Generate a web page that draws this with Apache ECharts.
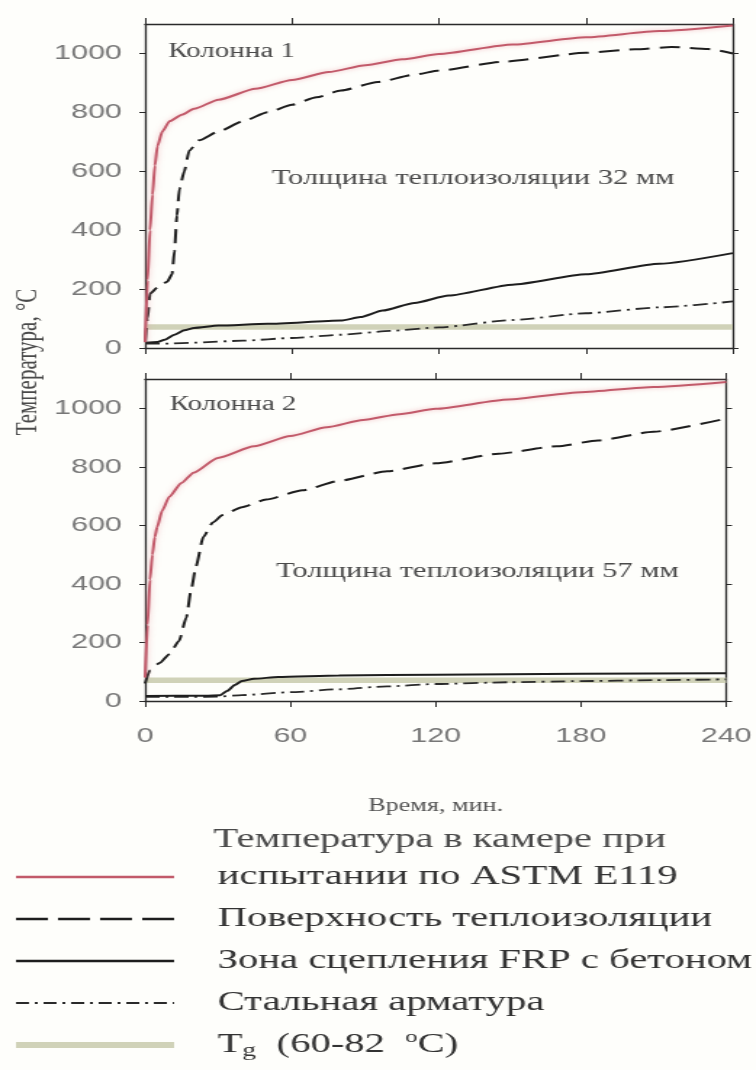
<!DOCTYPE html>
<html>
<head>
<meta charset="utf-8">
<script src="https://cdn.jsdelivr.net/npm/echarts@6/dist/echarts.min.js"></script>
<style>
  html, body { margin: 0; padding: 0; background: #fefefb; }
  /* the source picture is stretched sideways, so the chart is drawn narrow and widened */
  #chart { width: 521px; height: 1070px; transform: scaleX(1.451); transform-origin: 0 0; }
</style>
</head>
<body>
<div id="chart"></div>
<script>
// axis ticks
const timeTicks = [0, 60, 120, 180, 240];
const tempTicks = [0, 200, 400, 600, 800, 1000];

// furnace temperature, ASTM E119
const furnaceTime = [0, 1, 2, 3, 4, 5, 7, 10, 15, 20, 30, 45, 60, 75, 90, 105, 120, 150, 180, 210, 240];
const furnaceCol1 = [20, 230, 400, 520, 620, 685, 735, 770, 792, 812, 843, 880, 910, 937, 960, 980, 998, 1030, 1055, 1076, 1095];
const furnaceCol2 = [80, 260, 414, 500, 560, 595, 650, 698, 745, 780, 830, 870, 905, 935, 960, 980, 998, 1030, 1055, 1073, 1090];

// insulation surface
const surfaceTime1 = [0, 1, 2, 5, 9, 11, 12, 13, 14, 16, 18, 22, 30, 40, 50, 60, 70, 80, 95, 110, 120, 146, 180, 200, 215, 230, 240];
const surfaceCol1 = [20, 100, 185, 205, 225, 250, 330, 450, 540, 600, 670, 705, 735, 770, 800, 826, 851, 874, 903, 928, 942, 972, 1002, 1014, 1022, 1015, 1000];
const surfaceTime2 = [0, 2, 6, 10, 14, 17, 19, 21, 24, 28, 32, 40, 50, 65, 80, 100, 120, 146, 170, 187, 210, 240];
const surfaceCol2 = [60, 105, 130, 160, 205, 285, 380, 460, 560, 610, 635, 662, 688, 720, 752, 785, 812, 845, 870, 890, 920, 965];

// FRP / concrete bond zone
const bondTime1 = [0, 5, 8, 12, 16, 20, 30, 50, 80, 88, 97, 110, 124, 150, 180, 210, 240];
const bondCol1 = [18, 20, 28, 45, 60, 68, 76, 82, 93, 105, 127, 153, 178, 215, 250, 286, 322];
const bondTime2 = [0, 25, 31, 34, 37, 40, 45, 55, 80, 120, 180, 240];
const bondCol2 = [17, 18, 20, 35, 55, 68, 76, 82, 87, 90, 93, 95];

// steel rebar
const steelTime1 = [0, 10, 20, 40, 60, 80, 100, 120, 150, 180, 210, 240];
const steelCol1 = [15, 15, 18, 25, 34, 45, 58, 70, 95, 118, 138, 158];
const steelTime2 = [0, 10, 20, 30, 40, 60, 80, 100, 120, 150, 180, 210, 240];
const steelCol2 = [14, 14, 14, 15, 20, 30, 40, 50, 58, 64, 68, 71, 74];

// Tg band (60-82 °C), drawn as a thick line
const tgTime = [0, 240];
const tgValue = [71, 71];

const names = [
  "Температура в камере при испытании по ASTM E119",
  "Поверхность теплоизоляции",
  "Зона сцепления FRP с бетоном",
  "Стальная арматура",
  "Tg (60-82 °C)",
];

const serif = "Liberation Serif";
const sans = "Liberation Sans";

const styles = [
  { color: "#c25a6a", width: 2, shadowColor: "rgba(235,160,170,0.7)", shadowBlur: 4 },
  { color: "#1e1e1e", width: 2, type: [14, 7] },
  { color: "#1e1e1e", width: 2 },
  { color: "#2a2a2a", width: 1.8, type: [10, 4, 2, 4] },
  { color: "#d0d2b8", width: 5.5 },
];

// legend keys are drawn a bit heavier than the plot lines
const legendLines = [
  { width: 2.5 },
  { width: 2.5, type: [22, 7] },
  { width: 2.5 },
  { width: 2, type: [9, 4, 2, 4] },
  { width: 6 },
];

const pairs = (t, v) => t.map((x, i) => [x, v[i]]);

const line = (idx, grid, t, v) => ({
  name: names[idx],
  type: "line",
  xAxisIndex: grid,
  yAxisIndex: grid,
  data: pairs(t, v),
  symbol: "none",
  smooth: 0.2,
  smoothMonotone: "x",
  color: styles[idx].color,
  lineStyle: styles[idx],
  z: idx === 4 ? 1 : 5 - idx,
});

const grids = [
  { left: 100, top: 24, width: 405, height: 324 },
  { left: 100, top: 379, width: 405, height: 322 },
];

const axisLine = { show: true, onZero: false, lineStyle: { color: "#2a2a2a", width: 1.3 } };
const labelStyle = { color: "#777", fontFamily: sans, fontSize: 21, formatter: (v) => String(v) };

const xAxes = [];
const yAxes = [];
grids.forEach((g, i) => {
  xAxes.push({
    type: "value", gridIndex: i, min: 0, max: 240, position: "bottom",
    axisLine,
    axisTick: { show: true, length: 6, customValues: timeTicks, lineStyle: { color: "#2a2a2a" } },
    axisLabel: { show: i === 1, customValues: timeTicks, margin: 25, ...labelStyle },
    splitLine: { show: false },
    name: i === 1 ? "Время, мин." : "",
    nameLocation: "middle",
    nameGap: 96,
    nameTextStyle: { fontFamily: serif, fontSize: 18, color: "#555" },
  });
  yAxes.push({
    type: "value", gridIndex: i, min: 0, max: 1100, position: "left",
    axisLine,
    axisTick: { show: true, length: 4, customValues: tempTicks, lineStyle: { color: "#2a2a2a" } },
    axisLabel: { customValues: tempTicks, margin: 16, ...labelStyle },
    splitLine: { show: false },
  });
});
grids.forEach((g, i) => {
  xAxes.push({
    type: "value", gridIndex: i, min: 0, max: 240, position: "top",
    axisLine,
    axisTick: { show: true, length: 6, customValues: timeTicks, lineStyle: { color: "#2a2a2a" } },
    axisLabel: { show: false },
    splitLine: { show: false },
  });
  yAxes.push({
    type: "value", gridIndex: i, min: 0, max: 1100, position: "right",
    axisLine,
    axisTick: { show: true, length: 4, customValues: tempTicks, lineStyle: { color: "#2a2a2a" } },
    axisLabel: { show: false },
    splitLine: { show: false },
  });
});

const series = [
  line(0, 0, furnaceTime, furnaceCol1),
  line(1, 0, surfaceTime1, surfaceCol1),
  line(2, 0, bondTime1, bondCol1),
  line(3, 0, steelTime1, steelCol1),
  line(4, 0, tgTime, tgValue),
  line(0, 1, furnaceTime, furnaceCol2),
  line(1, 1, surfaceTime2, surfaceCol2),
  line(2, 1, bondTime2, bondCol2),
  line(3, 1, steelTime2, steelCol2),
  line(4, 1, tgTime, tgValue),
];

const note = (text, x, y, size, align, rotation) => ({
  type: "text",
  x, y,
  rotation: rotation || 0,
  style: {
    text,
    fontFamily: serif,
    fontSize: size,
    fill: "#4a4a4a",
    align: align || "left",
    verticalAlign: "middle",
  },
});

const chart = echarts.init(document.getElementById("chart"));

const option = {
  animation: false,
  backgroundColor: "#fefefb",
  grid: grids,
  xAxis: xAxes,
  yAxis: yAxes,
  legend: {
    data: names.map((name, i) => ({ name, lineStyle: legendLines[i] })),
    orient: "vertical",
    left: 8,
    top: 861,
    padding: 0,
    itemWidth: 109,
    itemHeight: 14,
    itemGap: 10,
    selectedMode: false,
    itemStyle: { opacity: 0 },
    formatter: (name) => {
      if (name === names[0]) return "испытании по ASTM E119";
      if (name === names[4]) return "T{sub|g}  (60-82  {sup|o}C)";
      return name;
    },
    textStyle: {
      fontFamily: serif,
      fontSize: 28,
      lineHeight: 32,
      color: "#333",
      padding: [0, 0, 0, 25],
      rich: {
        sub: { fontFamily: serif, fontSize: 19, color: "#333", verticalAlign: "bottom", lineHeight: 32 },
        sup: { fontFamily: serif, fontSize: 17, color: "#333", verticalAlign: "top", lineHeight: 32 },
      },
    },
  },
  graphic: [
    note("Колонна 1", 116, 52, 20),
    note("Толщина теплоизоляции 32 мм", 326, 178, 21, "center"),
    note("Колонна 2", 117, 405, 20),
    note("Толщина теплоизоляции 57 мм", 329, 571, 21, "center"),
    note("Температура в камере при", 147, 840, 28),
    note("Температура, °С", 19, 362, 21, "center", Math.PI / 2),
  ],
  series,
};

chart.setOption(option);
window.addEventListener("resize", () => chart.resize());
</script>
</body>
</html>
